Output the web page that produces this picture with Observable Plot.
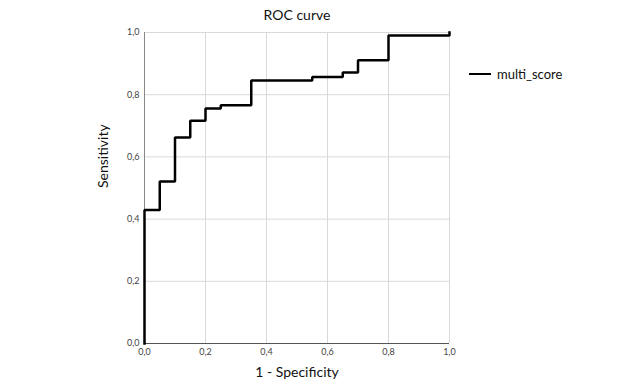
<!DOCTYPE html>
<html>
<head>
<meta charset="utf-8">
<script src="https://cdn.jsdelivr.net/npm/d3@7"></script>
<script src="https://cdn.jsdelivr.net/npm/@observablehq/plot@0.6"></script>
<style>
  html, body { margin: 0; padding: 0; background: #fff; }
  #wrap { position: relative; width: 640px; height: 384px; font-family: Lato, "Open Sans", sans-serif; }
  #legend { position: absolute; left: 469px; top: 66px; display: flex; align-items: center; font-size: 13px; color: #111; }
  #legend .sw { width: 22px; height: 0; border-top: 2.5px solid #000; margin-right: 6px; }
</style>
</head>
<body>
<div id="wrap"><div id="legend"><span class="sw"></span><span id="legend-label"></span></div></div>
<script>
const titleText = "ROC curve";
const xLabel = "1 - Specificity";
const yLabel = "Sensitivity";
const seriesName = "multi_score";
const fpr = [0, 0, 0.05, 0.10, 0.15, 0.20, 0.25, 0.35, 0.55, 0.65, 0.70, 0.80, 1.00];
const tpr = [0, 0.429, 0.521, 0.662, 0.716, 0.756, 0.766, 0.846, 0.857, 0.871, 0.911, 0.990, 1.00];
const ticks = [0, 0.2, 0.4, 0.6, 0.8, 1.0];

const data = fpr.map((x, i) => ({x, y: tpr[i]}));
const fmt = d => d.toFixed(1).replace(".", ",");

const chart = Plot.plot({
  width: 640,
  height: 384,
  marginLeft: 144,
  marginRight: 191,
  marginTop: 32,
  marginBottom: 41,
  style: {fontFamily: "Lato, 'Open Sans', sans-serif", background: "#fff"},
  x: {domain: [0, 1], ticks, tickFormat: fmt, label: null},
  y: {domain: [0, 1], ticks, tickFormat: fmt, label: null},
  marks: [
    Plot.gridX(ticks, {stroke: "#d9d9d9", strokeOpacity: 1, strokeWidth: 1}),
    Plot.gridY(ticks, {stroke: "#d9d9d9", strokeOpacity: 1, strokeWidth: 1}),
    Plot.ruleX([0], {stroke: "#888"}),
    Plot.ruleY([0], {stroke: "#555"}),
    Plot.axisX(ticks, {tickSize: 0, tickPadding: 5, tickFormat: fmt, fontSize: 9, fill: "#444", label: null}),
    Plot.axisY(ticks, {tickSize: 0, tickPadding: 5, tickFormat: fmt, fontSize: 9, fill: "#444", label: null}),
    Plot.line(data, {x: "x", y: "y", curve: "step-after", stroke: "#000", strokeWidth: 2.5, strokeLinejoin: "miter", strokeLinecap: "square"}),
    Plot.text([titleText], {frameAnchor: "top", dy: -22, fontSize: 14, fill: "#111"}),
    Plot.text([xLabel], {frameAnchor: "bottom", dy: 33, fontSize: 14, fill: "#111"}),
    Plot.text([yLabel], {frameAnchor: "left", dx: -41, rotate: -90, fontSize: 14, fill: "#111"})
  ]
});
document.getElementById("wrap").prepend(chart);
document.getElementById("legend-label").textContent = seriesName;
</script>
</body>
</html>
